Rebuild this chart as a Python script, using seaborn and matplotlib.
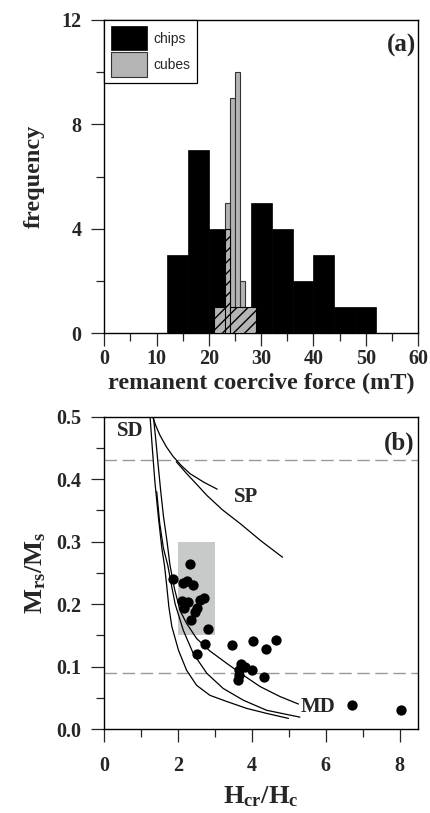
import numpy as np
import pandas as pd
import matplotlib
matplotlib.use('Agg')
import matplotlib.pyplot as plt
import seaborn as sns
from matplotlib.ticker import MultipleLocator

# ---- (a) histogram counts ----
chip_edges = [12, 16, 20, 24, 28, 32, 36, 40, 44, 48, 52]
chip_counts = [3, 7, 4, 0, 5, 4, 2, 3, 1, 1]
cube_edges = [23, 24, 25, 26, 27]
cube_counts = [5, 9, 10, 2]
hatch_left = [21, 23]
hatch_right = [29, 24]
hatch_counts = [1, 4]

# ---- (b) Day plot ----
hcr_hc = [1.85, 2.32, 2.14, 2.25, 2.41, 2.10, 2.19, 2.28, 2.16, 2.58, 2.70, 2.50,
          2.46, 2.35, 2.80, 2.73, 2.50, 3.47, 4.04, 4.38, 4.65, 3.70, 3.82, 3.66,
          4.01, 3.64, 3.62, 4.34, 6.71, 8.05]
mrs_ms = [0.241, 0.264, 0.234, 0.237, 0.231, 0.205, 0.201, 0.204, 0.193, 0.207, 0.210, 0.193,
          0.188, 0.174, 0.160, 0.136, 0.120, 0.134, 0.141, 0.128, 0.142, 0.104, 0.100, 0.094,
          0.094, 0.086, 0.078, 0.084, 0.039, 0.031]

# mixing curves
sdmd1_x = [1.24, 1.30, 1.37, 1.46, 1.56, 1.63, 1.69, 1.75, 1.83, 2.01, 2.23, 2.50, 2.86, 3.32, 3.86, 4.40, 4.99]
sdmd1_y = [0.500, 0.450, 0.396, 0.342, 0.289, 0.262, 0.230, 0.195, 0.164, 0.126, 0.094, 0.070, 0.054, 0.044, 0.033, 0.025, 0.017]
sdmd2_x = [1.42, 1.50, 1.60, 1.72, 1.82, 1.92, 2.14, 2.41, 2.78, 3.22, 3.77, 4.40, 5.30]
sdmd2_y = [0.380, 0.330, 0.290, 0.262, 0.230, 0.200, 0.158, 0.121, 0.089, 0.065, 0.046, 0.030, 0.019]
sdmd3_x = [1.33, 1.40, 1.46, 1.53, 1.60, 1.70, 1.78, 1.90, 2.05, 2.22, 2.50, 2.86, 3.32, 3.77, 4.22, 4.76, 5.26]
sdmd3_y = [0.500, 0.460, 0.422, 0.380, 0.342, 0.300, 0.262, 0.225, 0.190, 0.170, 0.145, 0.125, 0.105, 0.086, 0.068, 0.052, 0.040]
sp1_x = [1.31, 1.40, 1.51, 1.68, 1.87, 2.10, 2.32, 2.70, 3.06]
sp1_y = [0.500, 0.485, 0.470, 0.452, 0.436, 0.421, 0.409, 0.395, 0.384]
sp2_x = [1.95, 2.23, 2.50, 2.78, 3.20, 3.68, 4.25, 4.83]
sp2_y = [0.428, 0.409, 0.392, 0.374, 0.351, 0.329, 0.301, 0.275]

sns.set_style('ticks')
plt.rcParams['font.family'] = ['Liberation Serif', 'DejaVu Serif']
plt.rcParams['font.weight'] = 'bold'
plt.rcParams['mathtext.fontset'] = 'custom'
plt.rcParams['mathtext.rm'] = 'Liberation Serif:bold'
plt.rcParams['mathtext.it'] = 'Liberation Serif:bold'
plt.rcParams['mathtext.bf'] = 'Liberation Serif:bold'
plt.rcParams['hatch.linewidth'] = 1.0

fig = plt.figure(figsize=(4.3, 8.13), dpi=100)
ax1 = fig.add_axes([0.2426, 0.5904, 0.7295, 0.385])
ax2 = fig.add_axes([0.2426, 0.1033, 0.7295, 0.3841])

grey = '#b4b4b4'

# (a)
chips = pd.DataFrame({'x': chip_edges[:-1], 'n': chip_counts})
cubes = pd.DataFrame({'x': cube_edges[:-1], 'n': cube_counts})
sns.histplot(data=chips, x='x', weights='n', bins=chip_edges, color='black',
             alpha=1, edgecolor='black', linewidth=0.5, label='chips', ax=ax1)
sns.histplot(data=cubes, x='x', weights='n', bins=cube_edges, color=grey,
             alpha=1, edgecolor='#333333', linewidth=0.8, label='cubes', ax=ax1)
widths = [r - l for l, r in zip(hatch_left, hatch_right)]
ax1.bar(hatch_left, hatch_counts, width=widths, align='edge', color=grey,
        edgecolor='black', hatch='///', linewidth=0.8, zorder=3)

ax1.set_xlim(0, 60)
ax1.set_ylim(0, 12)
ax1.xaxis.set_major_locator(MultipleLocator(10))
ax1.xaxis.set_minor_locator(MultipleLocator(5))
ax1.yaxis.set_major_locator(MultipleLocator(4))
ax1.yaxis.set_minor_locator(MultipleLocator(2))
ax1.set_xlabel('remanent coercive force (mT)', fontsize=17.5, fontweight='bold', labelpad=3)
ax1.set_ylabel('frequency', fontsize=17.5, fontweight='bold', labelpad=12)
ax1.text(0.994, 0.92, '(a)', transform=ax1.transAxes, ha='right', va='center',
         fontsize=18, fontweight='bold')
leg = ax1.legend(loc='upper left', bbox_to_anchor=(0, 1), borderaxespad=0,
                 fancybox=False, edgecolor='black', framealpha=1,
                 prop={'family': 'Liberation Sans', 'size': 10, 'weight': 'normal'},
                 handlelength=2.6, handleheight=2.3, handletextpad=0.5,
                 labelspacing=0.15, borderpad=0.45)
leg.get_frame().set_linewidth(0.9)

# (b)
ax2.add_patch(plt.Rectangle((2, 0.15), 1, 0.15, color='#c8c9c9', lw=0, zorder=0))
for yy in [0.43, 0.09]:
    ax2.axhline(yy, color='#999999', lw=1.0, linestyle=(0, (9, 4)), zorder=1)
for cx, cy in [(sdmd1_x, sdmd1_y), (sdmd2_x, sdmd2_y), (sdmd3_x, sdmd3_y),
               (sp1_x, sp1_y), (sp2_x, sp2_y)]:
    sns.lineplot(x=cx, y=cy, sort=False, estimator=None, color='black', lw=0.9, ax=ax2)
sns.scatterplot(x=hcr_hc, y=mrs_ms, color='black', s=55, edgecolor='black',
                linewidth=0, ax=ax2, zorder=4)

ax2.set_xlim(0, 8.5)
ax2.set_ylim(0, 0.5)
ax2.xaxis.set_major_locator(MultipleLocator(2))
ax2.xaxis.set_minor_locator(MultipleLocator(1))
ax2.yaxis.set_major_locator(MultipleLocator(0.1))
ax2.yaxis.set_minor_locator(MultipleLocator(0.05))
ax2.set_xlabel(r'$\mathrm{H_{cr}/H_c}$', fontsize=19, labelpad=6)
ax2.set_ylabel(r'$\mathrm{M_{rs}/M_s}$', fontsize=19, labelpad=6)
ax2.text(0.99, 0.914, '(b)', transform=ax2.transAxes, ha='right', va='center',
         fontsize=18, fontweight='bold')
ax2.text(0.70, 0.477, 'SD', ha='center', va='center', fontsize=15, fontweight='bold')
ax2.text(3.85, 0.372, 'SP', ha='center', va='center', fontsize=15, fontweight='bold')
ax2.text(5.78, 0.035, 'MD', ha='center', va='center', fontsize=15, fontweight='bold')

for ax in (ax1, ax2):
    for sp in ax.spines.values():
        sp.set_color('black')
        sp.set_linewidth(1.0)
    ax.tick_params(which='major', direction='out', length=9.5, width=0.9, labelsize=14.5)
    ax.tick_params(which='minor', direction='out', length=5.5, width=0.9)
    ax.tick_params(axis='y', which='major', pad=7)
    for lab in ax.get_xticklabels() + ax.get_yticklabels():
        lab.set_fontweight('bold')
ax1.tick_params(axis='x', which='major', pad=2)
ax2.tick_params(axis='x', which='major', pad=10)

fig.savefig('out.png', dpi=100)
